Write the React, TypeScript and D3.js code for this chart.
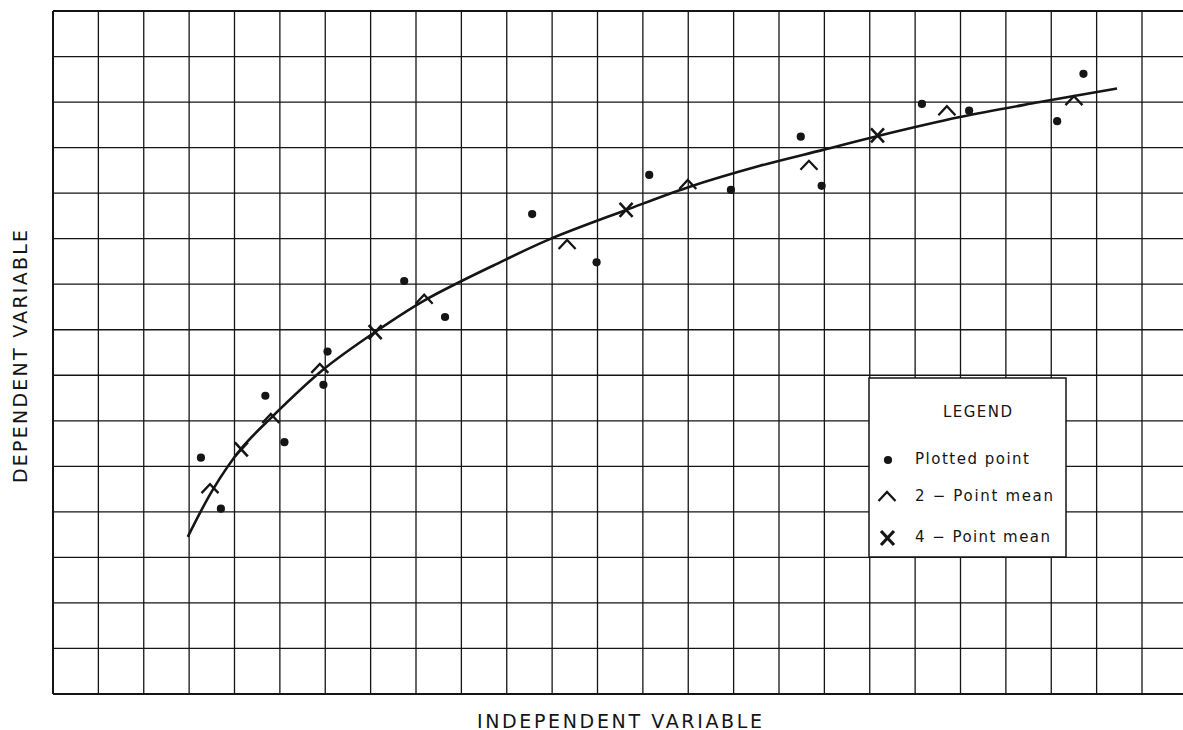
import React from "react";
import * as d3 from "d3";

// Data in grid units (x: 0..24+, y: 0..15)
const plottedX = [3.26, 3.70, 4.68, 5.10, 5.96, 6.05, 7.74, 8.64, 10.56, 11.98, 13.14, 14.94, 16.48, 16.94, 19.15, 20.19, 22.13, 22.71];
const plottedY = [5.19, 4.07, 6.55, 5.53, 6.79, 7.52, 9.07, 8.28, 10.54, 9.48, 11.40, 11.07, 12.24, 11.16, 12.96, 12.81, 12.58, 13.62];

const mean2X = [3.46, 4.80, 5.88, 8.18, 11.33, 13.99, 16.66, 19.70, 22.50];
const mean2Y = [4.61, 6.15, 7.25, 8.77, 9.97, 11.29, 11.71, 12.91, 13.13];

const mean4X = [4.15, 7.10, 12.63, 18.17];
const mean4Y = [5.37, 7.95, 10.63, 12.27];

const curveX = [2.97, 3.53, 4.14, 4.80, 5.95, 7.10, 8.18, 9.85, 10.95, 12.63, 13.97, 15.58, 16.97, 18.16, 19.99, 21.75, 23.45];
const curveY = [3.45, 4.50, 5.38, 6.06, 7.12, 7.95, 8.64, 9.48, 9.99, 10.63, 11.12, 11.60, 11.95, 12.25, 12.67, 13.00, 13.30];

const xGridTicks = d3.range(0, 25);
const yGridTicks = d3.range(0, 16);

const xTitle = "INDEPENDENT VARIABLE";
const yTitle = "DEPENDENT VARIABLE";
const legendTitle = "LEGEND";
const legendLabels = ["Plotted point", "2 \u2212 Point mean", "4 \u2212 Point mean"];

const W = 1183;
const H = 730;
const INK = "#151515";
const FONT = "'DejaVu Sans', sans-serif";

export default function App() {
  const x = d3.scaleLinear().domain([0, 24]).range([53, 1142]);
  const y = d3.scaleLinear().domain([0, 15]).range([694, 11]);

  const line = d3
    .line<number>()
    .x((i) => x(curveX[i]))
    .y((i) => y(curveY[i]))
    .curve(d3.curveCatmullRom.alpha(0.5));
  const curvePath = line(d3.range(curveX.length)) || "";

  const caret = (cx: number, cy: number, key: string) => (
    <path
      key={key}
      d={`M${cx - 8.5},${cy + 9} L${cx},${cy} L${cx + 8.5},${cy + 9}`}
      fill="none"
      stroke={INK}
      strokeWidth={2.3}
      strokeLinejoin="miter"
    />
  );
  const cross = (cx: number, cy: number, key: string, sw = 2.6) => (
    <path
      key={key}
      d={`M${cx - 6.5},${cy - 7} L${cx + 6.5},${cy + 7} M${cx + 6.5},${cy - 7} L${cx - 6.5},${cy + 7}`}
      fill="none"
      stroke={INK}
      strokeWidth={sw}
    />
  );

  // legend box
  const lg = { x0: 869, y0: 378, x1: 1066, y1: 557 };

  return (
    <svg
      width={W}
      height={H}
      style={{ position: "absolute", left: 0, top: 0, background: "#fff" }}
    >
      <rect x={0} y={0} width={W} height={H} fill="#fff" />
      {/* grid */}
      <g>
        {xGridTicks.map((t) => (
          <line
            key={"vx" + t}
            x1={x(t)}
            x2={x(t)}
            y1={y(15)}
            y2={y(0)}
            stroke={INK}
            strokeWidth={t === 0 ? 2 : 1.3}
          />
        ))}
        {yGridTicks.map((t) => (
          <line
            key={"hy" + t}
            x1={x(0)}
            x2={W}
            y1={y(t)}
            y2={y(t)}
            stroke={INK}
            strokeWidth={t === 0 || t === 15 ? 2 : 1.3}
          />
        ))}
      </g>

      {/* fitted curve */}
      <path d={curvePath} fill="none" stroke={INK} strokeWidth={2.6} strokeLinecap="butt" />

      {/* plotted points */}
      {plottedX.map((v, i) => (
        <circle key={"p" + i} cx={x(v)} cy={y(plottedY[i])} r={4.1} fill={INK} />
      ))}
      {/* 2-point means */}
      {mean2X.map((v, i) => caret(x(v), y(mean2Y[i]), "m2" + i))}
      {/* 4-point means */}
      {mean4X.map((v, i) => cross(x(v), y(mean4Y[i]), "m4" + i))}

      {/* legend */}
      <rect
        x={lg.x0}
        y={lg.y0}
        width={lg.x1 - lg.x0}
        height={lg.y1 - lg.y0}
        fill="#fff"
        stroke={INK}
        strokeWidth={1.5}
      />
      <text
        x={943}
        y={416.5}
        fontFamily={FONT}
        fontSize={15}
        fill={INK}
        textLength={69}
        lengthAdjust="spacing"
      >
        {legendTitle}
      </text>
      <circle cx={888} cy={460} r={4.1} fill={INK} />
      {caret(887, 492, "lgc")}
      {cross(887.5, 538, "lgx", 3.2)}
      {[
        { t: legendLabels[0], y: 464, w: 114 },
        { t: legendLabels[1], y: 500.7, w: 138 },
        { t: legendLabels[2], y: 542.3, w: 135 },
      ].map((d, i) => (
        <text
          key={"lt" + i}
          x={915}
          y={d.y}
          fontFamily={FONT}
          fontSize={15}
          fill={INK}
          textLength={d.w}
          lengthAdjust="spacing"
        >
          {d.t}
        </text>
      ))}

      {/* axis titles */}
      <text
        x={477}
        y={727.5}
        fontFamily={FONT}
        fontSize={19}
        fill={INK}
        textLength={285}
        lengthAdjust="spacing"
      >
        {xTitle}
      </text>
      <text
        transform="translate(26.5,483) rotate(-90)"
        x={0}
        y={0}
        fontFamily={FONT}
        fontSize={19}
        fill={INK}
        textLength={253}
        lengthAdjust="spacing"
      >
        {yTitle}
      </text>
    </svg>
  );
}
